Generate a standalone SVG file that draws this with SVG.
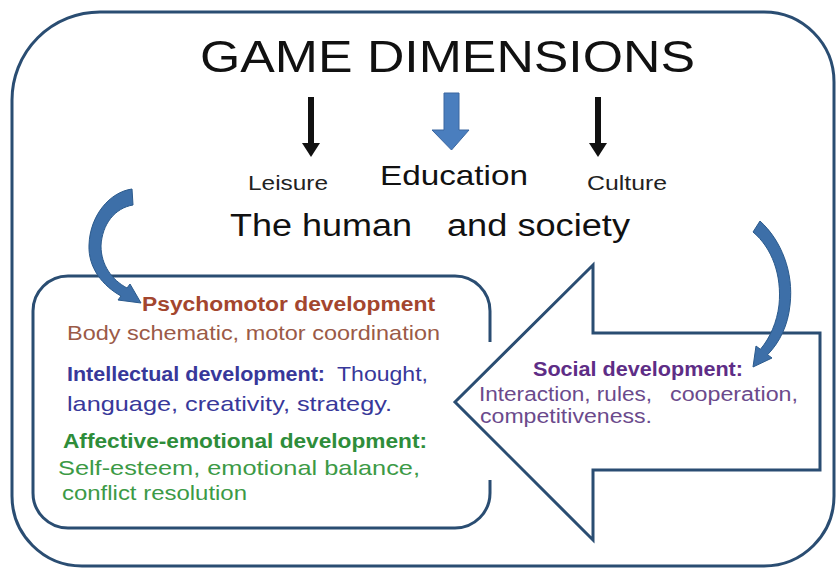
<svg xmlns="http://www.w3.org/2000/svg" width="837" height="569" viewBox="0 0 837 569">
<style>
text{font-family:"Liberation Sans",Arial,sans-serif;}
.frame{fill:none;stroke:#2a4d72;stroke-width:3;}
.blk{fill:#111;}
.curv{fill:#3d6fa8;stroke:#2b5a8c;stroke-width:1;}
.bold{font-weight:bold;}
.psy{fill:#a3462e;}
.psy2{fill:#9b5a47;}
.int{fill:#38389a;}
.aff{fill:#2e8d3a;}
.aff2{fill:#3c9a46;}
.soc{fill:#5e2d86;}
.soc2{fill:#6b4a8c;}
</style>
<rect x="0" y="0" width="837" height="569" fill="#ffffff"/>
<g id="outer-frame">
<path class="frame" d="M100,12 H764 A70,70 0 0 1 834,82 V496 A70,70 0 0 1 764,566 H82 A70,70 0 0 1 12,496 V100 A88,88 0 0 1 100,12 Z"/>
</g>
<g id="title">
<text x="200" y="72" font-size="45" fill="#111" textLength="495" lengthAdjust="spacingAndGlyphs">GAME DIMENSIONS</text>
</g>
<g id="leisure">
<text x="248" y="190" font-size="21" fill="#222" textLength="80" lengthAdjust="spacingAndGlyphs">Leisure</text>
</g>
<g id="education">
<text x="380" y="185" font-size="28" fill="#111" textLength="148" lengthAdjust="spacingAndGlyphs">Education</text>
</g>
<g id="culture">
<text x="587" y="190" font-size="21" fill="#222" textLength="80" lengthAdjust="spacingAndGlyphs">Culture</text>
</g>
<g id="human-society">
<text x="230" y="236" font-size="31" fill="#111" textLength="182" lengthAdjust="spacingAndGlyphs">The human</text>
<text x="447" y="236" font-size="31" fill="#111" textLength="183" lengthAdjust="spacingAndGlyphs">and society</text>
</g>
<g id="individual-box">
<path class="frame" d="M490,342 V311 A35,35 0 0 0 455,276 H68 A35,35 0 0 0 33,311 V493 A35,35 0 0 0 68,528 H455 A35,35 0 0 0 490,493 V480"/>
<text class="bold psy" x="142" y="311" font-size="20" textLength="293" lengthAdjust="spacingAndGlyphs">Psychomotor development</text>
<text class="psy2" x="67" y="340" font-size="21" textLength="373" lengthAdjust="spacingAndGlyphs">Body schematic, motor coordination</text>
<text class="bold int" x="67" y="381" font-size="20" textLength="258" lengthAdjust="spacingAndGlyphs">Intellectual development:</text>
<text class="int" x="337" y="381" font-size="21" textLength="91" lengthAdjust="spacingAndGlyphs">Thought,</text>
<text class="int" x="67" y="411" font-size="21" textLength="325" lengthAdjust="spacingAndGlyphs">language, creativity, strategy.</text>
<text class="bold aff" x="63" y="448" font-size="20" textLength="364" lengthAdjust="spacingAndGlyphs">Affective-emotional development:</text>
<text class="aff2" x="58" y="475" font-size="21" textLength="362" lengthAdjust="spacingAndGlyphs">Self-esteem, emotional balance,</text>
<text class="aff2" x="62" y="500" font-size="21" textLength="185" lengthAdjust="spacingAndGlyphs">conflict resolution</text>
</g>
<g id="social-arrow">
<polygon points="455,402 593,265 593,333 820,333 820,470 593,470 593,540" fill="#ffffff" stroke="#2a4d72" stroke-width="3" stroke-linejoin="miter"/>
<text class="bold soc" x="533" y="376" font-size="19.5" textLength="210" lengthAdjust="spacingAndGlyphs">Social development:</text>
<text class="soc2" x="479" y="401" font-size="20" textLength="173" lengthAdjust="spacingAndGlyphs">Interaction, rules,</text>
<text class="soc2" x="670" y="401" font-size="20" textLength="128" lengthAdjust="spacingAndGlyphs">cooperation,</text>
<text class="soc2" x="480" y="423" font-size="20" textLength="172" lengthAdjust="spacingAndGlyphs">competitiveness.</text>
</g>
<g id="connectors">
<g id="arrow-leisure">
<rect class="blk" x="308" y="97" width="6" height="47"/>
<polygon class="blk" points="302,143 320,143 311,157"/>
</g>
<g id="arrow-education">
<polygon points="444,93 459,93 459,130 469,130 451.5,150 432,130 444,130" fill="#4a7ebe" stroke="#3a66a0" stroke-width="1"/>
</g>
<g id="arrow-culture">
<rect class="blk" x="595" y="97" width="6" height="47"/>
<polygon class="blk" points="589,143 607,143 598,157"/>
</g>
<path id="curve-left" class="curv" d="M132,189 C110,192 90,215 89,245 C88,268 103,286 121,296 L118,300 L141,303 L130,284 L127,288 C112,280 101,265 101,246 C102,224 115,208 133,205 Z"/>
<path id="curve-right" class="curv" d="M753,232 L760,221 C781,240 794,272 790,305 C788,325 780,342 767.6,354.7 L772,358 L753,367 L756,346 L760.4,349.3 C770,338 777,322 779,305 C782,275 772,248 753,232 Z"/>
</g>
</svg>
